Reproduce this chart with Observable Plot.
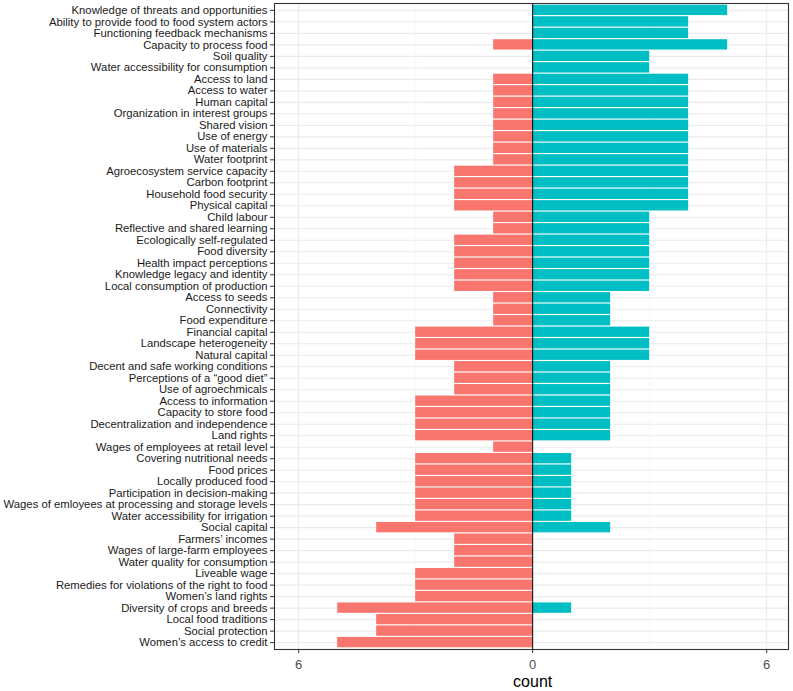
<!DOCTYPE html>
<html>
<head>
<meta charset="utf-8">
<script src="https://cdn.jsdelivr.net/npm/d3@7"></script>
<script src="https://cdn.jsdelivr.net/npm/@observablehq/plot@0.6"></script>
<style>
  html, body { margin: 0; padding: 0; background: #fff; }
  #chart { width: 793px; height: 691px; }
</style>
</head>
<body>
<div id="chart"></div>
<script>
const categories = [
  "Knowledge of threats and opportunities",
  "Ability to provide food to food system actors",
  "Functioning feedback mechanisms",
  "Capacity to process food",
  "Soil quality",
  "Water accessibility for consumption",
  "Access to land",
  "Access to water",
  "Human capital",
  "Organization in interest groups",
  "Shared vision",
  "Use of energy",
  "Use of materials",
  "Water footprint",
  "Agroecosystem service capacity",
  "Carbon footprint",
  "Household food security",
  "Physical capital",
  "Child labour",
  "Reflective and shared learning",
  "Ecologically self-regulated",
  "Food diversity",
  "Health impact perceptions",
  "Knowledge legacy and identity",
  "Local consumption of production",
  "Access to seeds",
  "Connectivity",
  "Food expenditure",
  "Financial capital",
  "Landscape heterogeneity",
  "Natural capital",
  "Decent and safe working conditions",
  "Perceptions of a \u201cgood diet\u201d",
  "Use of agroechmicals",
  "Access to information",
  "Capacity to store food",
  "Decentralization and independence",
  "Land rights",
  "Wages of employees at retail level",
  "Covering nutritional needs",
  "Food prices",
  "Locally produced food",
  "Participation in decision-making",
  "Wages of emloyees at processing and storage levels",
  "Water accessibility for irrigation",
  "Social capital",
  "Farmers\u2019 incomes",
  "Wages of large-farm employees",
  "Water quality for consumption",
  "Liveable wage",
  "Remedies for violations of the right to food",
  "Women\u2019s land rights",
  "Diversity of crops and breeds",
  "Local food traditions",
  "Social protection",
  "Women\u2019s access to credit"
];

const negativeCounts = [
  0, 0, 0, -1, 0, 0, -1, -1, -1, -1, -1, -1, -1, -1,
  -2, -2, -2, -2, -1, -1, -2, -2, -2, -2, -2, -1, -1, -1,
  -3, -3, -3, -2, -2, -2, -3, -3, -3, -3, -1, -3, -3, -3,
  -3, -3, -3, -4, -2, -2, -2, -3, -3, -3, -5, -4, -4, -5
];

const positiveCounts = [
  5, 4, 4, 5, 3, 3, 4, 4, 4, 4, 4, 4, 4, 4,
  4, 4, 4, 4, 3, 3, 3, 3, 3, 3, 3, 2, 2, 2,
  3, 3, 3, 2, 2, 2, 2, 2, 2, 2, 0, 1, 1, 1,
  1, 1, 1, 2, 0, 0, 0, 0, 0, 0, 1, 0, 0, 0
];

const sides = ["negative", "positive"];
const sideColors = ["#F8766D", "#00BFC4"];
const xTicks = [-6, 0, 6];
const xMinorTicks = [-3, 3];
const xLabel = "count";

const rows = [];
categories.forEach((c, i) => {
  if (negativeCounts[i] !== 0) rows.push({category: c, count: negativeCounts[i], side: sides[0]});
  if (positiveCounts[i] !== 0) rows.push({category: c, count: positiveCounts[i], side: sides[1]});
});

const chart = Plot.plot({
  width: 793,
  height: 691,
  marginLeft: 274,
  marginRight: 5,
  marginTop: 3,
  marginBottom: 42,
  style: {fontFamily: "'Liberation Sans', Arial, sans-serif", background: "#fff", overflow: "visible"},
  x: {domain: [-6.62, 6.56]},
  y: {domain: categories, paddingInner: 0.1, paddingOuter: 0.15, round: false},
  color: {domain: sides, range: sideColors},
  marks: [
    Plot.gridY({stroke: "#ebebeb", strokeOpacity: 1, strokeWidth: 1.1}),
    Plot.ruleX(xTicks, {stroke: "#ebebeb", strokeWidth: 1.1}),
    Plot.ruleX(xMinorTicks, {stroke: "#f2f2f2", strokeWidth: 0.6}),
    Plot.barX(rows, {x: "count", y: "category", fill: "side"}),
    Plot.ruleX([0], {stroke: "#000", strokeWidth: 1}),
    Plot.frame({stroke: "#333", strokeWidth: 1.1}),
    Plot.axisY({tickSize: 4, tickPadding: 3, fontSize: 11.3, fill: "#1a1a1a", stroke: "#333", label: null}),
    Plot.axisX({ticks: xTicks, tickFormat: d => Math.abs(d), tickSize: 4, tickPadding: 6, fontSize: 13, fill: "#4d4d4d", stroke: "#333", label: null}),
    Plot.text([xLabel], {x: () => 0, frameAnchor: "bottom", dy: 37, text: d => d, fontSize: 16, fill: "#000"})
  ]
});

document.getElementById("chart").appendChild(chart);
</script>
</body>
</html>
